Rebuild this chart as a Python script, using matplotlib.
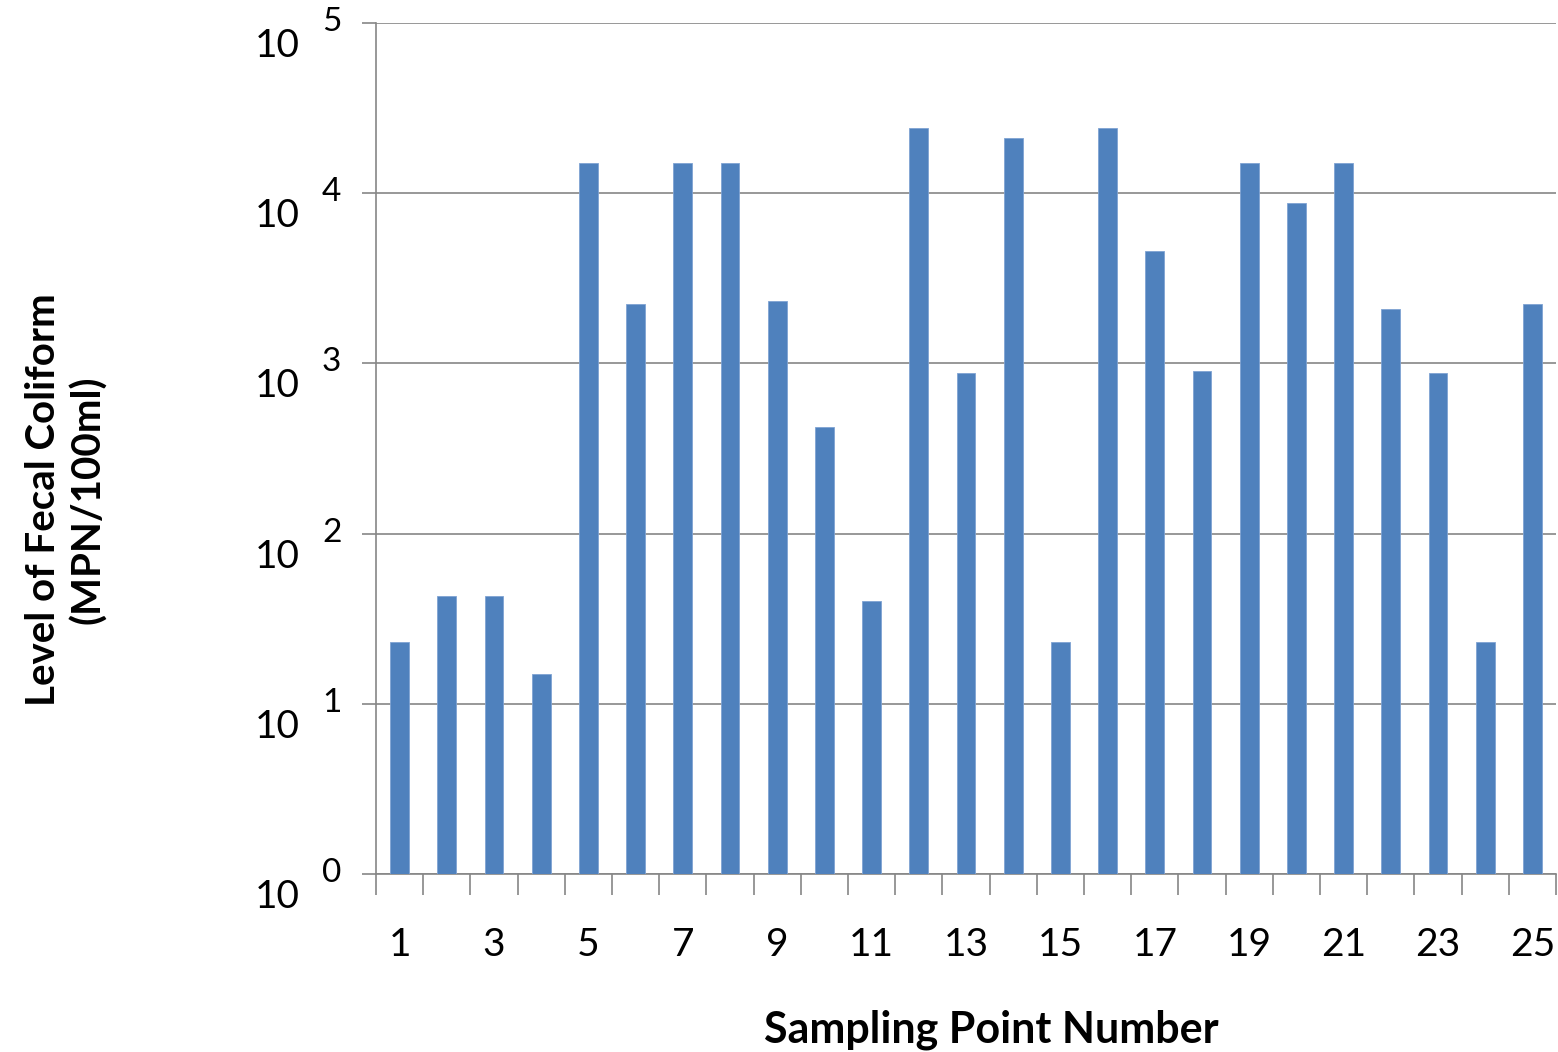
import matplotlib
matplotlib.use("Agg")
import matplotlib.pyplot as plt
import matplotlib.transforms as mtransforms
import numpy as np

plt.rcParams['font.family'] = ['Lato', 'DejaVu Sans']

sampling_points = list(range(1, 26))
fecal_coliform = [23, 43, 43, 15, 15000, 2230, 15000, 15000, 2320, 425,
                  40, 24000, 880, 21000, 23, 24000, 4600, 900, 15000, 8800,
                  15000, 2080, 880, 23, 2230]
exponents = [0, 1, 2, 3, 4, 5]
x_tick_labels = [str(n) for n in sampling_points[::2]]

bar_color = '#4F81BD'
gray = '#868686'

fig = plt.figure(figsize=(15.58, 10.52), dpi=100)
ax = fig.add_axes([376/1558, 1 - 874/1052, 1180/1558, 851/1052])

ax.bar(sampling_points, fecal_coliform, width=0.4, color=bar_color,
       edgecolor='#7FA3D3', linewidth=0.6, zorder=3)
ax.set_yscale('log')
ax.set_ylim(1, 1e5)
ax.set_xlim(0.5, 25.5)

for s in ['top', 'right']:
    ax.spines[s].set_visible(False)
for s in ['left', 'bottom']:
    ax.spines[s].set_color(gray)
    ax.spines[s].set_linewidth(1.2)

# y grid and ticks
ax.set_yticks([10.0**e for e in exponents])
ax.yaxis.set_minor_locator(matplotlib.ticker.NullLocator())
ax.set_yticklabels([])
ax.tick_params(axis='y', which='major', length=10, width=1.2, color=gray, direction='out')
ax.grid(axis='y', which='major', color=gray, linewidth=1.2, zorder=0)
ax.set_axisbelow(True)

# x ticks: labels at odd points, tick marks at category boundaries
ax.set_xticks(sampling_points[::2])
ax.set_xticklabels(x_tick_labels, fontsize=28)
ax.set_xticks(np.arange(0.5, 26, 1.0), minor=True)
ax.tick_params(axis='x', which='major', length=0, pad=38)
ax.tick_params(axis='x', which='minor', length=15, width=1.2, color=gray, direction='out')

# y tick labels in "10 ^e" style
ytrans = ax.get_yaxis_transform()
for e in exponents:
    off_base = mtransforms.ScaledTranslation(0, -23/100, fig.dpi_scale_trans)
    ax.text((300 - 376)/1180, 10.0**e, '10', transform=ytrans + off_base,
            ha='right', va='center', fontsize=28, color='black')
    off_exp = mtransforms.ScaledTranslation(0, 1/100, fig.dpi_scale_trans)
    ax.text((322 - 376)/1180, 10.0**e, str(e), transform=ytrans + off_exp,
            ha='left', va='center', fontsize=24, color='black')

fig.text(991/1558, 1 - 1030/1052, 'Sampling Point Number', ha='center', va='center',
         fontsize=31, fontweight='bold')
fig.text(66/1558, 1 - 500/1052, 'Level of Fecal Coliform\n(MPN/100ml)', ha='center',
         va='center', rotation=90, fontsize=29, fontweight='bold', linespacing=1.25)

fig.savefig('out.png', dpi=100)
